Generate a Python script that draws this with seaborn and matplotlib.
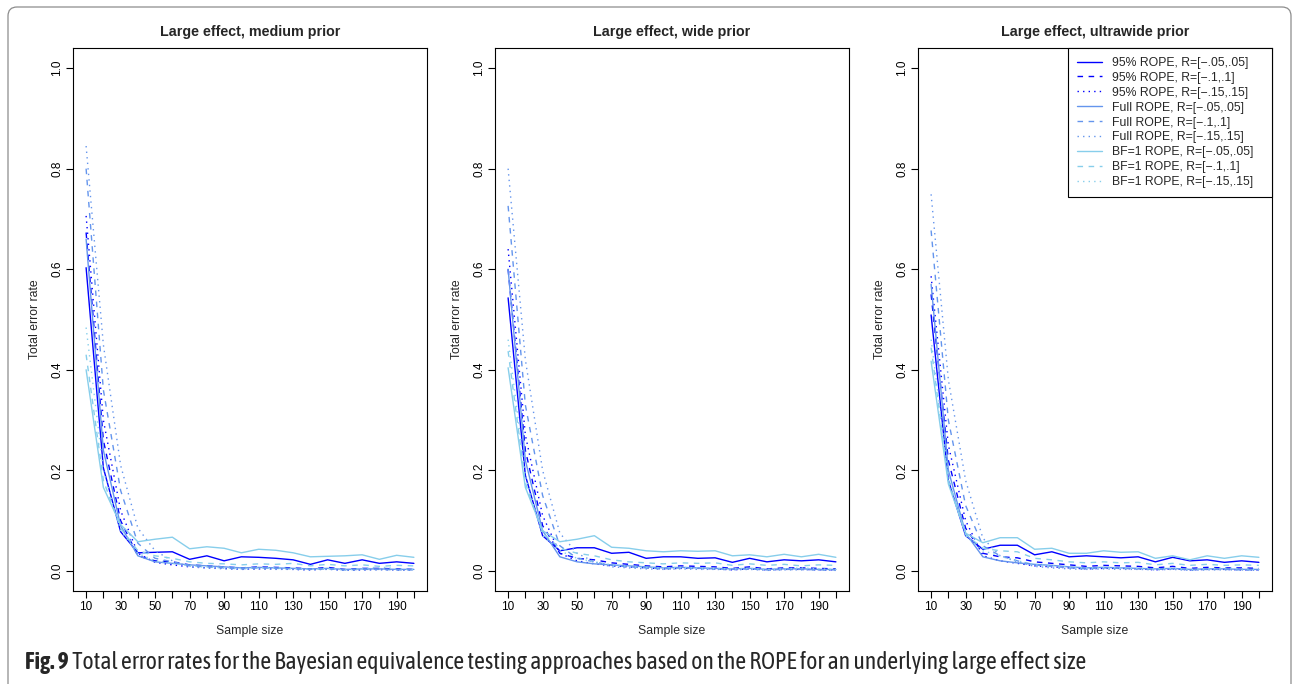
import matplotlib

matplotlib.use("Agg")
import matplotlib.pyplot as plt
import matplotlib.patheffects as pe
from matplotlib.patches import FancyBboxPatch
from matplotlib.transforms import Affine2D
from matplotlib import font_manager
from matplotlib.font_manager import FontProperties
import pandas as pd
import seaborn as sns

W, H = 1294, 684

SAMPLE_SIZES = [10, 20, 30, 40, 50, 60, 70, 80, 90, 100,
                110, 120, 130, 140, 150, 160, 170, 180, 190, 200]

SERIES = [
    "95% ROPE, R=[\u2212.05,.05]",
    "95% ROPE, R=[\u2212.1,.1]",
    "95% ROPE, R=[\u2212.15,.15]",
    "Full ROPE, R=[\u2212.05,.05]",
    "Full ROPE, R=[\u2212.1,.1]",
    "Full ROPE, R=[\u2212.15,.15]",
    "BF=1 ROPE, R=[\u2212.05,.05]",
    "BF=1 ROPE, R=[\u2212.1,.1]",
    "BF=1 ROPE, R=[\u2212.15,.15]",
]
COLORS = ["#0000FF"] * 3 + ["#6495ED"] * 3 + ["#87CEEB"] * 3
DASHES = ["", (4, 4), (1, 3)] * 3

TITLES = [
    "Large effect, medium prior",
    "Large effect, wide prior",
    "Large effect, ultrawide prior",
]

# medium prior
med_95_05 = [0.603, 0.205, 0.078, 0.036, 0.037, 0.038, 0.023, 0.030, 0.020, 0.028, 0.027, 0.025, 0.022, 0.013, 0.022, 0.015, 0.022, 0.015, 0.018, 0.015]
med_95_10 = [0.673, 0.260, 0.100, 0.030, 0.020, 0.018, 0.012, 0.010, 0.008, 0.006, 0.008, 0.007, 0.006, 0.004, 0.007, 0.003, 0.005, 0.005, 0.004, 0.003]
med_95_15 = [0.706, 0.300, 0.120, 0.035, 0.017, 0.012, 0.008, 0.006, 0.005, 0.003, 0.004, 0.004, 0.003, 0.002, 0.004, 0.001, 0.002, 0.003, 0.002, 0.002]
med_full_05 = [0.660, 0.240, 0.090, 0.030, 0.018, 0.015, 0.012, 0.010, 0.008, 0.006, 0.007, 0.006, 0.005, 0.004, 0.005, 0.003, 0.004, 0.004, 0.003, 0.003]
med_full_10 = [0.800, 0.360, 0.160, 0.055, 0.025, 0.018, 0.010, 0.008, 0.006, 0.004, 0.006, 0.005, 0.004, 0.003, 0.004, 0.002, 0.003, 0.003, 0.002, 0.002]
med_full_15 = [0.845, 0.450, 0.210, 0.085, 0.040, 0.020, 0.008, 0.006, 0.004, 0.003, 0.004, 0.003, 0.003, 0.002, 0.003, 0.001, 0.002, 0.002, 0.002, 0.001]
med_bf_05 = [0.400, 0.166, 0.092, 0.058, 0.063, 0.067, 0.044, 0.048, 0.045, 0.036, 0.043, 0.041, 0.036, 0.028, 0.029, 0.030, 0.032, 0.023, 0.031, 0.027]
med_bf_10 = [0.430, 0.180, 0.085, 0.040, 0.030, 0.025, 0.018, 0.015, 0.014, 0.012, 0.014, 0.013, 0.015, 0.010, 0.013, 0.010, 0.012, 0.009, 0.011, 0.010]
med_bf_15 = [0.484, 0.200, 0.080, 0.035, 0.020, 0.015, 0.010, 0.008, 0.006, 0.005, 0.006, 0.006, 0.005, 0.003, 0.005, 0.002, 0.004, 0.008, 0.004, 0.003]

# wide prior
wide_95_05 = [0.543, 0.190, 0.070, 0.040, 0.046, 0.046, 0.035, 0.037, 0.025, 0.028, 0.028, 0.025, 0.026, 0.017, 0.025, 0.018, 0.022, 0.020, 0.022, 0.018]
wide_95_10 = [0.600, 0.240, 0.090, 0.035, 0.025, 0.022, 0.016, 0.013, 0.010, 0.008, 0.010, 0.009, 0.008, 0.005, 0.008, 0.004, 0.006, 0.006, 0.005, 0.004]
wide_95_15 = [0.640, 0.270, 0.110, 0.035, 0.020, 0.014, 0.010, 0.008, 0.006, 0.004, 0.005, 0.005, 0.004, 0.002, 0.004, 0.002, 0.003, 0.003, 0.002, 0.002]
wide_full_05 = [0.600, 0.220, 0.080, 0.028, 0.018, 0.014, 0.012, 0.010, 0.008, 0.006, 0.007, 0.006, 0.005, 0.004, 0.005, 0.003, 0.004, 0.004, 0.003, 0.003]
wide_full_10 = [0.726, 0.330, 0.150, 0.050, 0.025, 0.018, 0.011, 0.008, 0.006, 0.004, 0.006, 0.005, 0.004, 0.003, 0.004, 0.002, 0.003, 0.003, 0.002, 0.002]
wide_full_15 = [0.800, 0.420, 0.200, 0.075, 0.035, 0.018, 0.008, 0.006, 0.004, 0.003, 0.004, 0.003, 0.003, 0.002, 0.003, 0.001, 0.002, 0.002, 0.002, 0.001]
wide_bf_05 = [0.404, 0.166, 0.080, 0.058, 0.063, 0.070, 0.047, 0.045, 0.040, 0.038, 0.040, 0.039, 0.040, 0.030, 0.032, 0.028, 0.033, 0.028, 0.033, 0.027]
wide_bf_10 = [0.437, 0.175, 0.075, 0.045, 0.035, 0.030, 0.022, 0.018, 0.016, 0.014, 0.016, 0.015, 0.016, 0.011, 0.014, 0.011, 0.013, 0.010, 0.012, 0.011]
wide_bf_15 = [0.460, 0.190, 0.070, 0.040, 0.025, 0.018, 0.012, 0.009, 0.007, 0.006, 0.007, 0.006, 0.005, 0.004, 0.005, 0.003, 0.004, 0.006, 0.004, 0.003]

# ultrawide prior
uwide_95_05 = [0.509, 0.180, 0.070, 0.043, 0.051, 0.051, 0.032, 0.038, 0.028, 0.030, 0.028, 0.026, 0.028, 0.018, 0.027, 0.020, 0.022, 0.017, 0.020, 0.017]
uwide_95_10 = [0.550, 0.220, 0.085, 0.035, 0.028, 0.026, 0.018, 0.015, 0.012, 0.009, 0.011, 0.010, 0.009, 0.006, 0.009, 0.005, 0.007, 0.006, 0.006, 0.005]
uwide_95_15 = [0.586, 0.250, 0.100, 0.030, 0.020, 0.015, 0.010, 0.008, 0.006, 0.004, 0.005, 0.005, 0.004, 0.002, 0.004, 0.002, 0.003, 0.003, 0.002, 0.002]
uwide_full_05 = [0.570, 0.200, 0.075, 0.028, 0.020, 0.016, 0.013, 0.011, 0.008, 0.006, 0.007, 0.006, 0.005, 0.004, 0.005, 0.003, 0.004, 0.004, 0.003, 0.003]
uwide_full_10 = [0.677, 0.300, 0.130, 0.050, 0.030, 0.020, 0.012, 0.009, 0.006, 0.004, 0.006, 0.005, 0.004, 0.003, 0.004, 0.002, 0.003, 0.003, 0.002, 0.002]
uwide_full_15 = [0.749, 0.380, 0.180, 0.065, 0.030, 0.018, 0.009, 0.006, 0.004, 0.003, 0.004, 0.003, 0.003, 0.002, 0.003, 0.001, 0.002, 0.002, 0.002, 0.001]
uwide_bf_05 = [0.417, 0.173, 0.075, 0.056, 0.066, 0.066, 0.043, 0.045, 0.035, 0.035, 0.040, 0.037, 0.038, 0.025, 0.030, 0.022, 0.030, 0.025, 0.030, 0.027]
uwide_bf_10 = [0.444, 0.180, 0.072, 0.045, 0.040, 0.038, 0.025, 0.022, 0.018, 0.016, 0.018, 0.016, 0.017, 0.012, 0.015, 0.011, 0.013, 0.011, 0.012, 0.011]
uwide_bf_15 = [0.460, 0.190, 0.070, 0.040, 0.030, 0.020, 0.013, 0.010, 0.008, 0.006, 0.007, 0.006, 0.005, 0.004, 0.005, 0.003, 0.004, 0.006, 0.004, 0.003]

PANELS = [
    [med_95_05, med_95_10, med_95_15, med_full_05, med_full_10, med_full_15, med_bf_05, med_bf_10, med_bf_15],
    [wide_95_05, wide_95_10, wide_95_15, wide_full_05, wide_full_10, wide_full_15, wide_bf_05, wide_bf_10, wide_bf_15],
    [uwide_95_05, uwide_95_10, uwide_95_15, uwide_full_05, uwide_full_10, uwide_full_15, uwide_bf_05, uwide_bf_10, uwide_bf_15],
]

CAPTION_BOLD = "Fig. 9"
CAPTION = "Total error rates for the Bayesian equivalence testing approaches based on the ROPE for an underlying large effect size"


def _weight(w) -> int:
    if isinstance(w, int):
        return w
    return {"normal": 400, "regular": 400, "book": 400, "medium": 500,
            "semibold": 600, "demibold": 600, "bold": 700, "heavy": 800, "black": 900}.get(str(w).lower(), 400)


def _caption_fonts():
    """Condensed regular + bold faces; falls back to Liberation Sans."""
    faces = {}
    for f in font_manager.fontManager.ttflist:
        key = (f.name + " " + str(f.stretch) + " " + f.fname).lower()
        if f.style != "normal" or not any(k in key for k in ("narrow", "condensed")):
            continue
        faces.setdefault(f.name, {})[_weight(f.weight)] = f.fname
    ranked = sorted(faces.items(), key=lambda kv: (400 not in kv[1], not any(w >= 600 for w in kv[1]), kv[0]))
    for name, weights in ranked:
        if 400 in weights:
            reg = FontProperties(fname=weights[400])
            heavy = [w for w in weights if w >= 600]
            if heavy:
                w = min(heavy, key=lambda v: abs(v - 700))
                return reg, FontProperties(fname=weights[w]), False
            return reg, FontProperties(fname=weights[400]), True
    return FontProperties(family="Liberation Sans"), FontProperties(family="Liberation Sans", weight="bold"), False


def _long(panel) -> pd.DataFrame:
    rows = []
    for label, values in zip(SERIES, panel):
        for n, v in zip(SAMPLE_SIZES, values):
            rows.append({"Sample size": n, "Total error rate": v, "series": label})
    return pd.DataFrame(rows)


def main() -> None:
    sns.set_theme(style="ticks")
    plt.rcParams.update(
        {
            "font.family": ["Liberation Sans", "DejaVu Sans"],
            "axes.edgecolor": "black",
            "axes.linewidth": 0.8,
            "xtick.color": "black",
            "ytick.color": "black",
            "xtick.major.size": 5,
            "ytick.major.size": 5,
            "xtick.major.width": 0.8,
            "ytick.major.width": 0.8,
            "xtick.labelsize": 8.5,
            "ytick.labelsize": 8.5,
        }
    )

    fig = plt.figure(figsize=(W / 100, H / 100), dpi=100)
    px = Affine2D().scale(1 / W, 1 / H) + fig.transFigure

    lefts = [73, 495, 918]
    ax_w, top, bottom = 354, 48, 591
    for i, (left, title, panel) in enumerate(zip(lefts, TITLES, PANELS)):
        ax = fig.add_axes([left / W, (H - bottom) / H, ax_w / W, (bottom - top) / H])
        sns.lineplot(
            data=_long(panel),
            x="Sample size",
            y="Total error rate",
            hue="series",
            style="series",
            hue_order=SERIES,
            style_order=SERIES,
            palette=COLORS,
            dashes=DASHES,
            linewidth=1.0,
            legend=(i == 2),
            ax=ax,
        )
        ax.set_xlim(2.4, 207.6)
        ax.set_ylim(-0.04, 1.04)
        ax.set_xticks(SAMPLE_SIZES)
        ax.set_xticklabels([str(v) if k % 2 == 0 else "" for k, v in enumerate(SAMPLE_SIZES)])
        ax.set_yticks([0.0, 0.2, 0.4, 0.6, 0.8, 1.0])
        ax.set_yticklabels(["0.0", "0.2", "0.4", "0.6", "0.8", "1.0"], rotation=90, va="center")
        ax.tick_params(axis="x", pad=2)
        ax.tick_params(axis="y", pad=2)
        ax.set_xlabel("Sample size", fontsize=8.8, labelpad=8.5)
        ax.set_ylabel("Total error rate", fontsize=8.8, labelpad=7.5)
        ax.set_title(title, fontsize=10.3, fontweight="bold", pad=8.5)
        for s in ax.spines.values():
            s.set_visible(True)
            s.set_color("black")
            s.set_linewidth(0.8)
        if i == 2:
            handles, labels = ax.get_legend_handles_labels()
            x0 = (1068 - left) / ax_w
            leg = ax.legend(
                handles,
                labels,
                loc="upper left",
                bbox_to_anchor=(x0, 0, 1 - x0, 1),
                mode="expand",
                borderaxespad=0,
                fontsize=8.8,
                frameon=True,
                fancybox=False,
                framealpha=1,
                edgecolor="black",
                handlelength=2.1,
                handletextpad=0.8,
                labelspacing=0.24,
                borderpad=0.72,
            )
            leg.get_frame().set_linewidth(0.8)

    # page frame with rounded corners (bottom runs off the image)
    frame = FancyBboxPatch(
        (8, -30), 1283, 677 + 30,
        boxstyle="round,pad=0,rounding_size=9",
        transform=px,
        facecolor="none",
        edgecolor="#8c8c8c",
        linewidth=0.9,
    )
    fig.patches.append(frame)

    # caption fitted to the printed width
    reg, bold, fake_bold = _caption_fonts()
    fig.canvas.draw()
    renderer = fig.canvas.get_renderer()
    size = 13.0
    t1 = fig.text(25 / W, (H - 663) / H, CAPTION_BOLD, fontproperties=bold, va="center", ha="left")
    if fake_bold:
        t1.set_path_effects([pe.withStroke(linewidth=0.9, foreground="black")])
    t2 = fig.text(0, (H - 663) / H, " " + CAPTION, fontproperties=reg, va="center", ha="left")
    t1.set_fontsize(size)
    t2.set_fontsize(size)
    w_total = t1.get_window_extent(renderer).width + t2.get_window_extent(renderer).width
    size = size * (1082 - 25) / w_total
    t1.set_fontsize(size)
    t2.set_fontsize(size)
    w1 = t1.get_window_extent(renderer).width
    t2.set_x((25 + w1) / W)

    fig.savefig("out.png", dpi=100)
    plt.close(fig)


if __name__ == "__main__":
    main()
